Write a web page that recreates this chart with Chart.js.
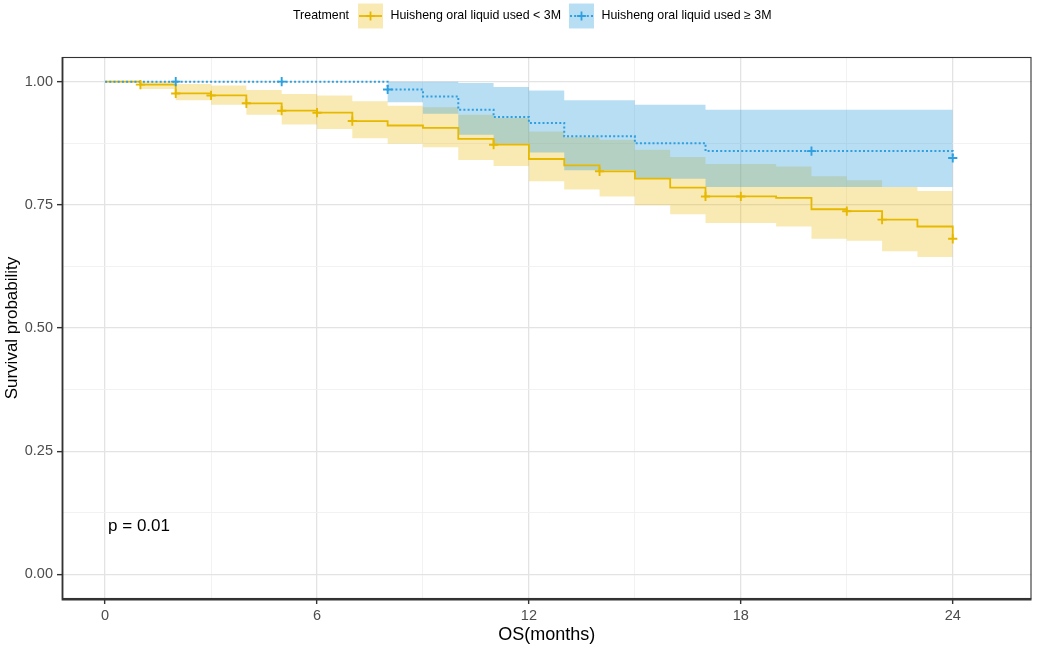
<!DOCTYPE html>
<html><head><meta charset="utf-8">
<script src="https://cdn.jsdelivr.net/npm/chart.js@4.4.1/dist/chart.umd.min.js"></script>
<style>html,body{margin:0;padding:0;background:#fff;overflow:hidden}#wrap{width:1038px;height:646px}</style>
</head><body><div id="wrap"><canvas id="c" width="1038" height="646"></canvas></div>
<script>
// ---------- data ----------
const seriesNames = ['Huisheng oral liquid used < 3M', 'Huisheng oral liquid used \u2265 3M'];
const legendTitle = 'Treatment';
const pValueText = 'p = 0.01';
const pValueAt = [0, 0.1];
const xTitle = 'OS(months)';
const yTitle = 'Survival probability';

const xTickValues = [0, 6, 12, 18, 24];
const xTickLabels = ['0', '6', '12', '18', '24'];
const xMinorValues = [3, 9, 15, 21];
const yTickValues = [0, 0.25, 0.5, 0.75, 1];
const yTickLabels = ['0.00', '0.25', '0.50', '0.75', '1.00'];
const yMinorValues = [0.125, 0.375, 0.625, 0.875];

// group 1: < 3M
const lowTimes = [0,1,2,3,4,5,6,7,8,9,10,11,12,13,14,15,16,17,18,19,20,21,22,23,24];
const lowSurv  = [1.000,0.994,0.976,0.972,0.956,0.941,0.937,0.920,0.911,0.906,0.884,0.872,0.843,0.830,0.818,0.803,0.785,0.767,0.767,0.764,0.741,0.737,0.720,0.706,0.681];
const lowUpper = [1.000,1.000,0.995,0.992,0.983,0.975,0.972,0.960,0.951,0.948,0.933,0.926,0.899,0.887,0.882,0.862,0.847,0.833,0.833,0.828,0.808,0.800,0.786,0.778,0.778];
const lowLower = [1.000,0.985,0.962,0.953,0.933,0.913,0.904,0.885,0.874,0.867,0.841,0.829,0.798,0.781,0.767,0.749,0.731,0.713,0.713,0.706,0.681,0.677,0.656,0.644,0.644];
const lowCensorTimes = [1,2,3,4,5,6,7,11,14,17,18,21,22,24];
const lowCensorSurv  = [0.994,0.976,0.972,0.956,0.941,0.937,0.920,0.872,0.818,0.767,0.767,0.737,0.720,0.681];

// group 2: >= 3M
const highTimes = [0,8,9,10,11,12,13,15,17,24];
const highSurv  = [1.000,0.984,0.970,0.943,0.928,0.916,0.889,0.875,0.859,0.845];
const highUpper = [1.000,1.000,1.000,0.997,0.989,0.982,0.962,0.953,0.943,0.943];
const highLower = [1.000,0.958,0.935,0.892,0.874,0.856,0.820,0.803,0.786,0.786];
const highCensorTimes = [2,5,8,20,24];
const highCensorSurv  = [1.000,1.000,0.984,0.859,0.845];

// ---------- styles ----------
const colLow = '#E7B800', colHigh = '#2E9FDF';
const fillLow = 'rgba(231,184,0,0.30)', fillHigh = 'rgba(46,159,223,0.34)';
const FONT = '"Liberation Sans", Arial, Helvetica, sans-serif';

const pts = (xs, ys) => xs.map((x, i) => ({x: x, y: ys[i]}));

const datasets = [
  {label:'lowUpper', data: pts(lowTimes, lowUpper), stepped:true, borderWidth:0, pointRadius:0, fill:'+1', backgroundColor: fillLow, order: 10},
  {label:'lowLower', data: pts(lowTimes, lowLower), stepped:true, borderWidth:0, pointRadius:0, fill:false, order: 10},
  {label:'highUpper', data: pts(highTimes, highUpper), stepped:true, borderWidth:0, pointRadius:0, fill:'+1', backgroundColor: fillHigh, order: 9},
  {label:'highLower', data: pts(highTimes, highLower), stepped:true, borderWidth:0, pointRadius:0, fill:false, order: 9},
  {label: seriesNames[0], data: pts(lowTimes, lowSurv), stepped:true, borderColor: colLow, borderWidth:1.8, pointRadius:0, fill:false, order: 3},
  {label: seriesNames[1], data: pts(highTimes, highSurv), stepped:true, borderColor: colHigh, borderWidth:2, borderDash:[2,2.2], pointRadius:0, fill:false, order: 2},
  {label:'lowCensor', data: pts(lowCensorTimes, lowCensorSurv), showLine:false, pointStyle:'cross', pointRadius:4.6, borderColor: colLow, borderWidth:1.9, order: 1},
  {label:'highCensor', data: pts(highCensorTimes, highCensorSurv), showLine:false, pointStyle:'cross', pointRadius:4.6, borderColor: colHigh, borderWidth:1.9, order: 0}
];

const isIn = (arr, v) => arr.some(a => Math.abs(a - v) < 1e-9);

const decor = {
  id: 'decor',
  afterDraw(chart) {
    const ctx = chart.ctx, a = chart.chartArea;
    ctx.save();
    // panel border
    ctx.strokeStyle = '#333333';
    ctx.lineWidth = 1.1;
    ctx.strokeRect(a.left + 0.5, a.top + 0.5, a.right - a.left - 1, a.bottom - a.top - 1);
    ctx.lineWidth = 1.8;
    ctx.beginPath();
    ctx.moveTo(a.left + 0.5, a.top); ctx.lineTo(a.left + 0.5, a.bottom + 0.5); ctx.lineTo(a.right, a.bottom + 0.5);
    ctx.stroke();

    // p-value
    const sx = chart.scales.x, sy = chart.scales.y;
    ctx.fillStyle = '#000';
    ctx.font = '17px ' + FONT;
    ctx.textBaseline = 'middle';
    ctx.textAlign = 'left';
    ctx.fillText(pValueText, sx.getPixelForValue(pValueAt[0]) + 3, sy.getPixelForValue(pValueAt[1]) + 1);

    // legend
    ctx.font = '12.4px ' + FONT;
    const cy = 16;
    let x = 293;
    ctx.fillText(legendTitle, x, cy);
    x += ctx.measureText(legendTitle).width + 9;
    const keys = [
      {fill: fillLow, col: colLow, dash: [], text: seriesNames[0]},
      {fill: fillHigh, col: colHigh, dash: [2, 2.2], text: seriesNames[1]}
    ];
    keys.forEach(k => {
      ctx.fillStyle = k.fill;
      ctx.fillRect(x, cy - 12.5, 25, 25);
      ctx.strokeStyle = k.col;
      ctx.lineWidth = 1.8;
      ctx.setLineDash(k.dash);
      ctx.beginPath(); ctx.moveTo(x + 1, cy); ctx.lineTo(x + 24, cy); ctx.stroke();
      ctx.setLineDash([]);
      ctx.beginPath();
      ctx.moveTo(x + 12.5 - 4.4, cy); ctx.lineTo(x + 12.5 + 4.4, cy);
      ctx.moveTo(x + 12.5, cy - 4.4); ctx.lineTo(x + 12.5, cy + 4.4);
      ctx.stroke();
      x += 25 + 7.5;
      ctx.fillStyle = '#000';
      ctx.fillText(k.text, x, cy);
      x += ctx.measureText(k.text).width + 8;
    });
    ctx.restore();
  }
};

new Chart(document.getElementById('c'), {
  type: 'line',
  data: { datasets: datasets },
  options: {
    responsive: false,
    animation: false,
    events: [],
    layout: { padding: { top: 57, right: 5, left: 0, bottom: 0 } },
    plugins: { legend: { display: false }, tooltip: { enabled: false } },
    scales: {
      x: {
        type: 'linear', min: -1.22, max: 26.23,
        afterBuildTicks: s => { s.ticks = xTickValues.concat(xMinorValues).sort((p, q) => p - q).map(v => ({value: v})); },
        afterFit: s => { s.height = 47; },
        ticks: {
          autoSkip: false, maxRotation: 0, padding: 3,
          color: '#4D4D4D', font: { size: 14.5, family: FONT },
          callback: v => { const i = xTickValues.findIndex(t => Math.abs(t - v) < 1e-9); return i >= 0 ? xTickLabels[i] : ''; }
        },
        grid: {
          color: c => (c.tick && isIn(xTickValues, c.tick.value)) ? '#E3E3E3' : '#F0F0F0',
          lineWidth: c => (c.tick && isIn(xTickValues, c.tick.value)) ? 1.3 : 0.9,
          tickColor: c => (c.tick && isIn(xTickValues, c.tick.value)) ? '#333333' : 'rgba(0,0,0,0)',
          tickLength: 5, tickWidth: 1.4
        },
        border: { display: false },
        title: { display: true, text: xTitle, color: '#000', font: { size: 18, family: FONT }, padding: { top: 0, bottom: 0 } }
      },
      y: {
        type: 'linear', min: -0.05, max: 1.05,
        afterBuildTicks: s => { s.ticks = yTickValues.concat(yMinorValues).sort((p, q) => p - q).map(v => ({value: v})); },
        afterFit: s => { s.width = 62; },
        ticks: {
          autoSkip: false, padding: 4,
          color: '#4D4D4D', font: { size: 14.5, family: FONT },
          callback: v => { const i = yTickValues.findIndex(t => Math.abs(t - v) < 1e-9); return i >= 0 ? yTickLabels[i] : ''; }
        },
        grid: {
          color: c => (c.tick && isIn(yTickValues, c.tick.value)) ? '#E3E3E3' : '#F0F0F0',
          lineWidth: c => (c.tick && isIn(yTickValues, c.tick.value)) ? 1.3 : 0.9,
          tickColor: c => (c.tick && isIn(yTickValues, c.tick.value)) ? '#333333' : 'rgba(0,0,0,0)',
          tickLength: 5, tickWidth: 1.4
        },
        border: { display: false },
        title: { display: true, text: yTitle, color: '#000', font: { size: 17, family: FONT }, padding: { top: 2, bottom: 0 } }
      }
    }
  },
  plugins: [decor]
});
</script></body></html>
